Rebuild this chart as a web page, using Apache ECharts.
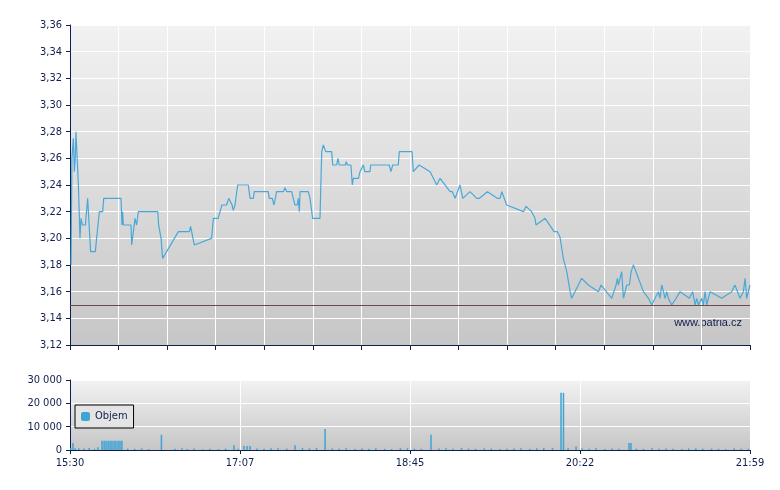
<!DOCTYPE html>
<html>
<head>
<meta charset="utf-8">
<script src="https://cdn.jsdelivr.net/npm/echarts@6/dist/echarts.min.js"></script>
<style>html,body{margin:0;padding:0;background:#fff}#c{width:780px;height:490px}</style>
</head>
<body>
<div id="c"></div>
<script>
// minutes after 15:30
var priceMin = [0.6,1.1,1.9,2.5,3.0,3.4,4.2,4.8,5.3,5.7,6.3,7.1,8.8,10.1,11.8,14.5,15.2,16.2,16.8,18.7,19.3,29.2,29.7,30.1,30.5,34.9,35.3,37.2,38.1,39.1,50.2,50.7,51.3,52.1,53.0,62.0,68.3,69.0,70.0,71.1,81.0,82.0,84.8,85.8,86.9,89.6,90.8,91.9,92.7,93.4,94.4,95.9,102.0,103.0,104.9,105.4,113.4,114.0,115.7,116.7,118.2,122.0,123.0,124.0,126.8,127.7,128.7,130.0,130.6,131.2,131.6,136.3,137.3,138.3,138.8,143.0,144.0,144.9,145.9,146.3,149.7,150.3,152.5,153.3,154.0,157.5,158.1,158.6,160.7,161.5,162.1,165.0,165.9,167.8,168.7,171.6,172.0,182.6,183.6,184.6,187.8,188.4,194.5,195.7,196.4,197.4,199.7,200.2,206.0,207.1,209.8,210.5,211.7,217.4,218.7,220.3,221.2,223.1,224.1,224.7,228.8,229.4,232.7,234.2,238.8,239.5,244.5,246.0,247.0,247.9,249.8,259.4,260.1,260.9,264.1,265.1,266.0,266.6,271.8,272.7,276.9,278.8,280.3,281.3,282.2,283.2,284.2,285.1,286.1,287.0,288.0,292.7,293.7,296.5,297.1,302.3,302.8,303.8,309.9,310.8,312.4,313.1,313.7,314.7,315.6,316.6,317.5,318.5,320.0,321.0,322.3,323.2,325.2,328.0,329.0,330.9,331.8,332.8,334.7,335.6,336.6,337.5,338.5,339.5,340.4,341.4,342.3,344.2,345.2,346.7,347.5,349.0,349.6,354.3,355.1,356.2,357.6,358.5,359.5,360.4,361.4,362.3,363.3,364.2,366.2,367.1,372.8,373.8,378.5,379.1,380.4,381.4,383.3,384.3,385.2,386.2,387.1,388.1,389];
var priceVal = [3.18,3.26,3.275,3.25,3.26,3.28,3.28,3.24,3.24,3.20,3.215,3.21,3.21,3.23,3.19,3.19,3.20,3.20,3.22,3.22,3.23,3.23,3.21,3.22,3.21,3.21,3.195,3.215,3.21,3.22,3.22,3.21,3.21,3.20,3.185,3.205,3.205,3.209,3.208,3.195,3.20,3.215,3.215,3.22,3.225,3.225,3.23,3.23,3.225,3.221,3.225,3.24,3.24,3.23,3.23,3.235,3.235,3.23,3.23,3.225,3.235,3.235,3.238,3.235,3.235,3.23,3.225,3.225,3.23,3.22,3.235,3.235,3.23,3.23,3.215,3.215,3.265,3.27,3.27,3.265,3.265,3.255,3.255,3.26,3.255,3.255,3.2575,3.255,3.255,3.24,3.245,3.245,3.25,3.255,3.25,3.25,3.255,3.255,3.25,3.255,3.255,3.265,3.265,3.265,3.25,3.25,3.255,3.255,3.25,3.25,3.24,3.24,3.245,3.235,3.235,3.23,3.23,3.24,3.24,3.23,3.235,3.235,3.23,3.23,3.235,3.235,3.23,3.23,3.235,3.235,3.225,3.22,3.22,3.224,3.22,3.22,3.215,3.21,3.215,3.215,3.205,3.205,3.201,3.20,3.185,3.185,3.175,3.175,3.16,3.155,3.155,3.17,3.17,3.165,3.165,3.16,3.16,3.165,3.155,3.155,3.165,3.17,3.165,3.165,3.175,3.155,3.155,3.165,3.165,3.175,3.18,3.18,3.17,3.16,3.16,3.155,3.155,3.15,3.155,3.155,3.16,3.155,3.165,3.16,3.155,3.16,3.155,3.15,3.15,3.155,3.155,3.16,3.16,3.155,3.155,3.16,3.15,3.155,3.15,3.15,3.155,3.15,3.16,3.15,3.16,3.16,3.155,3.155,3.16,3.16,3.165,3.165,3.155,3.155,3.16,3.17,3.155,3.155,3.165,3.16];
var refPrice = 3.15;

var volMin = [0.5,1.7,3,5,8,11,14,16,18.3,19.5,20.6,21.8,22.9,24,25.2,26.3,27.5,28.6,29.7,33,37,41,45,52.3,60,64,67,71,76,80,85,89,93.8,96,99.5,101.3,103,107,111,115,119,124,128.7,133,137,141,145.9,150,154,158,163,167,171,175,180,184,189,193,197,201,206.5,211,215,219,224,228,232,237,241,246,250,254,258,263,267,271,276,280.9,282.3,285,289.5,293,297,301,306,310,314,319.8,320.9,324,328,333,337,341,345,350,354,358,362,367,371,375,380,384,388];
var volVal = [900,3000,800,700,600,900,500,1200,4000,4000,4000,4000,4000,4000,4000,4000,4000,4000,4000,600,500,700,400,6500,500,800,400,600,300,500,400,600,2000,500,1700,1700,1700,600,500,700,800,600,2000,900,700,800,9000,600,500,700,400,600,500,700,500,400,800,700,600,500,6500,600,700,500,800,600,500,700,600,400,500,600,800,500,700,900,800,24500,24500,800,1500,600,500,700,400,600,500,3000,3000,600,500,700,500,600,500,400,600,700,500,600,500,400,700,600,500];

var volTicks = ['30 000', '20 000', '10 000', '0'];

function clock(m) {
    var t = 15 * 60 + 30 + Math.round(m);
    var h = Math.floor(t / 60), mm = t % 60;
    return h + ':' + (mm < 10 ? '0' : '') + mm;
}

var priceData = priceMin.map(function (m, i) { return [m, priceVal[i]]; });
var volData = volMin.map(function (m, i) { return [m, volVal[i]]; });

var navy = '#0f1f4f';
var plotBg = {
    type: 'linear', x: 0, y: 0, x2: 0, y2: 1,
    colorStops: [{offset: 0, color: '#f2f2f2'}, {offset: 1, color: '#c6c6c6'}]
};
var labelStyle = {color: navy, fontSize: 11, fontFamily: 'DejaVu Sans Condensed, Liberation Sans, sans-serif'};

var chart = echarts.init(document.getElementById('c'));
chart.setOption({
    animation: false,
    grid: [
        {left: 70, right: 30, top: 25, height: 320, show: true, backgroundColor: plotBg, borderWidth: 0},
        {left: 70, right: 30, top: 380, height: 70, show: true, backgroundColor: plotBg, borderWidth: 0}
    ],
    legend: {
        data: ['Objem'],
        left: 75, top: 405,
        orient: 'vertical',
        padding: [6, 6, 6, 6],
        borderColor: '#000', borderWidth: 1,
        backgroundColor: '#e4e4e4',
        itemWidth: 9, itemHeight: 9,
        textStyle: labelStyle
    },
    graphic: [{
        type: 'text', right: 38, top: 317,
        style: {text: 'www.patria.cz', fill: navy, font: '11px Liberation Sans, sans-serif'}
    }],
    xAxis: [
        {
            type: 'value', gridIndex: 0, min: 0, max: 389, interval: 389 / 14,
            axisLine: {onZero: false, lineStyle: {color: navy}},
            axisTick: {length: 5, lineStyle: {color: navy}},
            axisLabel: {show: false},
            splitLine: {lineStyle: {color: '#ffffff', width: 1}}
        },
        {
            type: 'value', gridIndex: 1, min: 0, max: 389, interval: 389 / 4,
            axisLine: {onZero: false, lineStyle: {color: navy}},
            axisTick: {length: 4, lineStyle: {color: navy}},
            axisLabel: Object.assign({formatter: clock, showMinLabel: true, showMaxLabel: true}, labelStyle),
            splitLine: {lineStyle: {color: '#ffffff'}}
        }
    ],
    yAxis: [
        {
            type: 'value', gridIndex: 0, min: 3.12, max: 3.36, interval: 0.02,
            axisLine: {show: true, lineStyle: {color: navy}},
            axisTick: {show: true, length: 4, lineStyle: {color: navy}},
            axisLabel: Object.assign({formatter: function (v) { return v.toFixed(2).replace('.', ','); }}, labelStyle),
            splitLine: {lineStyle: {color: '#ffffff'}}
        },
        {
            type: 'value', gridIndex: 1, min: 0, max: 30000, interval: 10000,
            axisLine: {show: true, lineStyle: {color: navy}},
            axisTick: {show: true, length: 4, lineStyle: {color: navy}},
            axisLabel: Object.assign({formatter: function (v) { return volTicks[3 - v / 10000]; }}, labelStyle),
            splitLine: {lineStyle: {color: '#ffffff'}}
        }
    ],
    series: [
        {
            name: 'Cena', type: 'line', xAxisIndex: 0, yAxisIndex: 0,
            data: priceData, showSymbol: false,
            lineStyle: {color: '#4aa8d8', width: 1.2},
            markLine: {
                silent: true, symbol: 'none', label: {show: false},
                lineStyle: {color: '#6a4a4a', width: 1, type: 'solid'},
                data: [{yAxis: refPrice}]
            }
        },
        {
            name: 'Objem', type: 'bar', xAxisIndex: 1, yAxisIndex: 1,
            data: volData, barWidth: 1.5,
            itemStyle: {color: '#3fa3d3', borderColor: '#1a3a6a', borderWidth: 0}
        }
    ]
});
</script>
</body>
</html>
